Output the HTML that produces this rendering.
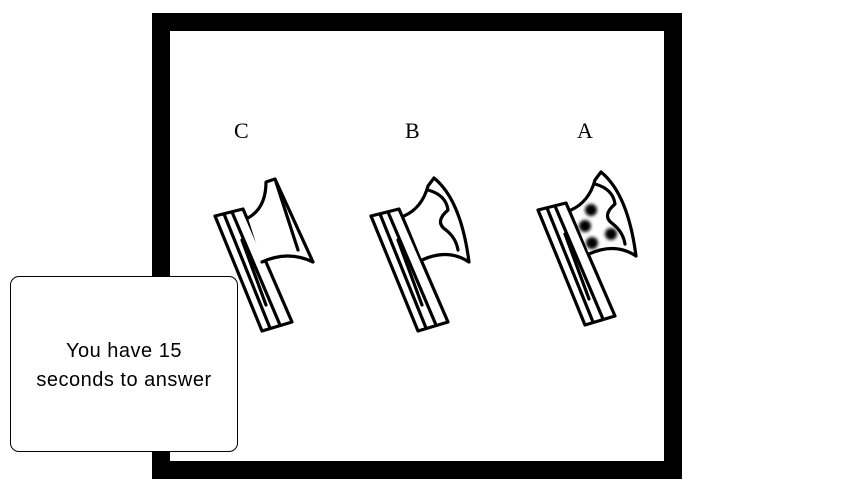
<!DOCTYPE html>
<html><head><style>
body{margin:0;width:850px;height:485px;background:#fff;overflow:hidden;position:relative;font-family:"Liberation Sans",sans-serif}
.frame{position:absolute;left:152px;top:13px;width:494px;height:430px;border:18px solid #000;background:#fff}
.lbl{position:absolute;top:118px;font-family:"Liberation Serif",serif;font-size:22px}
.box{position:absolute;left:10px;top:276px;width:226px;height:174px;border:1.5px solid #000;border-radius:9px;background:#fff;box-sizing:content-box}
.box div{position:absolute;left:0;right:0;text-align:center;font-size:20px;letter-spacing:0.5px}
svg{position:absolute;left:0;top:0}
</style></head><body>
<div class="frame"></div>
<div class="lbl" style="left:234px">C</div>
<div class="lbl" style="left:405px">B</div>
<div class="lbl" style="left:577px">A</div>
<svg width="850" height="485" fill="none" stroke="#000" stroke-width="3.2" stroke-linejoin="round" stroke-linecap="round">
<defs><filter id="b"><feGaussianBlur stdDeviation="1.5"/></filter></defs>
<g>
<path d="M215,216 L243,209 L292,322 L262,331 Z" fill="#fff"/>
<path d="M224,214 L270,328 M232,212 L280,325"/>
<path d="M242,240 L266,305"/>
<path d="M248,218 Q266,208 266,182 L275,179 L313,262 Q288,250 262,262" fill="#fff"/>
<path d="M276,182 L298,250"/>
</g>
<g transform="translate(156,0)">
<path d="M215,216 L243,209 L292,322 L262,331 Z" fill="#fff"/>
<path d="M224,214 L270,328 M232,212 L280,325"/>
<path d="M242,240 L266,305"/>
<path d="M248,216 Q266,208 272,186 L278,178 Q305,200 313,262 Q292,248 266,260" fill="#fff"/>
<path d="M272,190 Q290,195 292,210 Q278,222 290,230 Q300,238 302,250"/>
</g>
<g transform="translate(323,-6)">
<path d="M215,216 L243,209 L292,322 L262,331 Z" fill="#fff"/>
<path d="M224,214 L270,328 M232,212 L280,325"/>
<path d="M242,240 L266,305"/>
<path d="M248,216 Q266,208 272,186 L278,178 Q305,200 313,262 Q292,248 266,260" fill="#fff"/>
<path d="M272,190 Q290,195 292,210 Q278,222 290,230 Q300,238 302,250"/>
</g>
<g fill="#000" stroke="none" filter="url(#b)">
<circle cx="591" cy="210" r="6"/><circle cx="585" cy="226" r="6"/><circle cx="611" cy="234" r="6"/><circle cx="592" cy="243" r="6"/>
</g>
</svg>
<div class="box"><div style="top:63px">You have 15</div><div style="top:92px">seconds to answer</div></div>
</body></html>
